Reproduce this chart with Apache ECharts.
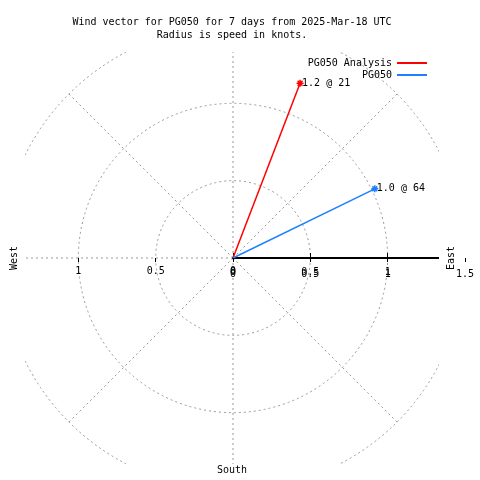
<!DOCTYPE html>
<html><head><meta charset="utf-8">
<script src="https://cdn.jsdelivr.net/npm/echarts@6/dist/echarts.min.js"></script>
<style>html,body{margin:0;padding:0;background:#fff}#c{width:480px;height:480px}</style>
</head><body><div id="c"></div>
<script>
const titleLines = ['Wind vector for PG050 for 7 days from 2025-Mar-18 UTC', 'Radius is speed in knots.'];
const seriesNames = ['PG050 Analysis', 'PG050'];
const seriesColors = ['#ff0000', '#1e80ff'];
const speeds = [1.21, 1.02];
const directions = [21, 64];
const radiusMax = 1.5;
const radiusStep = 0.5;
const compassLabels = ['East', 'West', 'South'];

const FONT = 'DejaVu Sans Mono';
const CENTER = [233, 258];
const R = 232;
const grey = '#999999';
const dash = [2, 3];
const txt = { fontFamily: FONT, fontSize: 10, color: '#000' };
const star = 'path://M0,-5L0,5M-5,0L5,0M-3.5,-3.5L3.5,3.5M-3.5,3.5L3.5,-3.5';

const chart = echarts.init(document.getElementById('c'), null, { renderer: 'canvas' });

const series = seriesNames.map((name, i) => ({
  type: 'line', name, coordinateSystem: 'polar', polarIndex: 0,
  color: seriesColors[i], z: 3, animation: false,
  lineStyle: { width: 1.5, color: seriesColors[i] },
  data: [
    { value: [0, directions[i]], symbol: 'none' },
    { value: [speeds[i], directions[i]], symbol: star, symbolSize: 7,
      itemStyle: { color: 'none', borderColor: seriesColors[i], borderWidth: 1.5 },
      label: { show: true, position: 'right', distance: -4, ...txt,
        formatter: () => speeds[i].toFixed(1) + ' @ ' + directions[i] } }
  ]
}));

const polarCommon = { center: CENTER, radius: R };
const masks = [
  { x: 0, y: 0, width: 480, height: 52 },
  { x: 0, y: 464, width: 480, height: 16 },
  { x: 0, y: 0, width: 25, height: 480 },
  { x: 439, y: 0, width: 41, height: 480 }
].map(s => ({ type: 'rect', shape: s, style: { fill: '#fff' }, z: 1, silent: true }));

const compassPos = [
  { x: 451, y: 258, rotation: Math.PI / 2 },
  { x: 14, y: 258, rotation: Math.PI / 2 },
  { x: 232, y: 470, rotation: 0 }
];
const compassEls = compassLabels.map((t, i) => ({
  type: 'text', x: compassPos[i].x, y: compassPos[i].y, rotation: compassPos[i].rotation, z: 10,
  style: { text: t, font: '10px "' + FONT + '"', fill: '#000', textAlign: 'center', textVerticalAlign: 'middle', align: 'center', verticalAlign: 'middle' }
}));

chart.setOption({
  animation: false,
  backgroundColor: '#fff',
  title: {
    text: titleLines.join('\n'), left: 227, top: 11, textAlign: 'center',
    textStyle: { ...txt, fontWeight: 'normal', lineHeight: 13 }
  },
  legend: [
    { data: [seriesNames[0]], right: 53, top: 58, align: 'right', icon: 'rect', itemWidth: 30, itemHeight: 2,
      padding: 0, selectedMode: false, textStyle: txt },
    { data: [seriesNames[1]], right: 53, top: 70, align: 'right', icon: 'rect', itemWidth: 30, itemHeight: 2,
      padding: 0, selectedMode: false, textStyle: txt }
  ],
  polar: [polarCommon, polarCommon, polarCommon],
  angleAxis: [
    { polarIndex: 0, type: 'value', min: -270, max: 90, interval: 45, startAngle: 0, clockwise: true, z: 0,
      axisLine: { show: false }, axisTick: { show: false }, axisLabel: { show: false },
      splitLine: { show: true, lineStyle: { color: grey, type: dash, width: 1 } } },
    { polarIndex: 1, type: 'value', min: -270, max: 90, startAngle: 0, clockwise: true, show: false },
    { polarIndex: 2, type: 'value', min: -270, max: 90, startAngle: 180, clockwise: true, show: false }
  ],
  radiusAxis: [
    { polarIndex: 0, type: 'value', min: 0, max: radiusMax, interval: radiusStep, z: 0,
      axisLine: { show: true, lineStyle: { color: '#000', width: 2 } },
      axisTick: { show: true, length: 5, lineStyle: { color: '#000' } },
      axisLabel: { show: true, margin: -19, ...txt },
      splitLine: { show: true, lineStyle: { color: grey, type: dash, width: 1 } } },
    { polarIndex: 1, type: 'value', min: 0, max: radiusMax, interval: radiusStep, z: 5,
      axisLine: { show: false },
      axisTick: { show: true, length: -4, lineStyle: { color: '#000' } },
      axisLabel: { show: true, margin: -21, ...txt },
      splitLine: { show: false } },
    { polarIndex: 2, type: 'value', min: 0, max: radiusMax, interval: radiusStep, z: 0,
      axisLine: { show: false },
      axisTick: { show: true, length: 4, lineStyle: { color: '#000' } },
      axisLabel: { show: true, margin: 8, ...txt },
      splitLine: { show: false } }
  ],
  graphic: { elements: masks.concat(compassEls) },
  series
});
</script></body></html>
